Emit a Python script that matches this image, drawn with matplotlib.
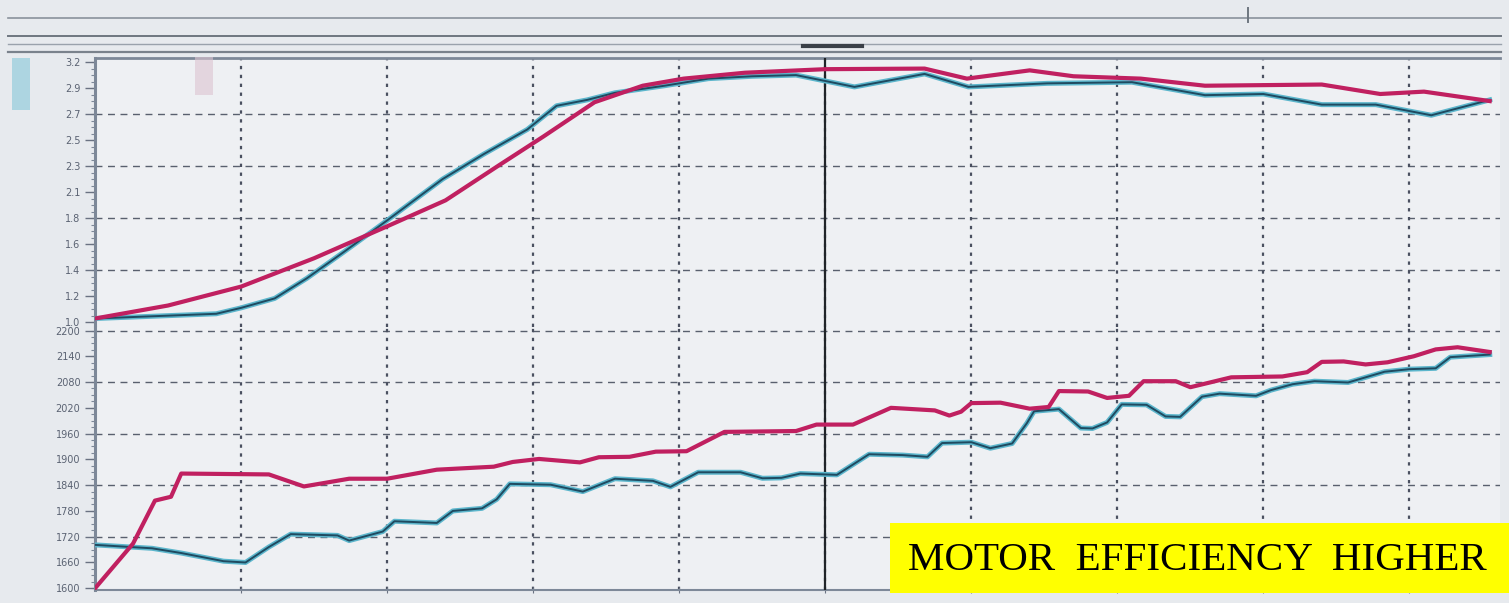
import numpy as np
import matplotlib
matplotlib.use("Agg")
import matplotlib.pyplot as plt
from matplotlib.patches import Rectangle
from matplotlib.lines import Line2D

# upper panel (efficiency-like trace), x in grid units
up_red_x = [0, 0.5, 1.0, 1.5, 2.0, 2.4, 2.77, 3.07, 3.42, 3.75, 4.03, 4.45, 5.0, 5.68,
            5.97, 6.4, 6.7, 7.16, 7.6, 8.4, 8.8, 9.1, 9.55]
up_red_y = [1.03, 1.14, 1.30, 1.54, 1.81, 2.03, 2.33, 2.57, 2.86, 3.00, 3.06, 3.11, 3.14, 3.145,
            3.06, 3.13, 3.08, 3.06, 3.00, 3.01, 2.93, 2.95, 2.87]

up_teal_x = [0, 0.83, 1.0, 1.23, 1.45, 1.7, 2.0, 2.38, 2.66, 2.96, 3.16, 3.37, 3.56, 3.9,
             4.2, 4.5, 4.8, 5.2, 5.68, 5.98, 6.52, 7.1, 7.6, 8.0, 8.4, 8.77, 9.15, 9.55]
up_teal_y = [1.03, 1.07, 1.12, 1.20, 1.37, 1.59, 1.86, 2.21, 2.42, 2.63, 2.83, 2.88, 2.94, 3.00,
             3.06, 3.08, 3.09, 2.99, 3.10, 2.99, 3.02, 3.03, 2.92, 2.93, 2.84, 2.84, 2.75, 2.88]

# lower panel (speed-like trace)
lo_red_x = [0, 0.26, 0.41, 0.52, 0.59, 1.19, 1.43, 1.74, 2.0, 2.34, 2.73, 2.86, 3.04, 3.32,
            3.45, 3.66, 3.84, 4.05, 4.31, 4.8, 4.94, 5.19, 5.45, 5.75, 5.85, 5.93, 6.0, 6.2,
            6.4, 6.53, 6.6, 6.8, 6.93, 7.08, 7.18, 7.4, 7.5, 7.78, 8.13, 8.3, 8.4, 8.55, 8.7,
            8.85, 9.03, 9.18, 9.33, 9.55]
lo_red_y = [1600, 1704, 1804, 1813, 1867, 1865, 1837, 1855, 1855, 1876, 1883, 1894, 1901, 1893,
            1905, 1906, 1918, 1919, 1964, 1966, 1981, 1981, 2020, 2014, 2002, 2011, 2031, 2032,
            2018, 2022, 2059, 2058, 2043, 2048, 2082, 2082, 2068, 2091, 2093, 2103, 2127, 2128, 2121,
            2126, 2140, 2156, 2161, 2150]

lo_teal_x = [0, 0.39, 0.59, 0.88, 1.03, 1.19, 1.34, 1.66, 1.74, 1.97, 2.05, 2.34, 2.45, 2.65,
             2.75, 2.84, 3.12, 3.34, 3.56, 3.82, 3.94, 4.13, 4.42, 4.57, 4.7, 4.83, 5.08, 5.3,
             5.53, 5.7, 5.8, 6.0, 6.13, 6.28, 6.38, 6.43, 6.6, 6.75, 6.83, 6.93, 7.03, 7.2, 7.33,
             7.43, 7.58, 7.7, 7.95, 8.05, 8.2, 8.35, 8.58, 8.83, 9.0, 9.18, 9.28, 9.55]
lo_teal_y = [1701, 1693, 1682, 1663, 1660, 1696, 1726, 1723, 1711, 1732, 1756, 1752, 1780, 1786,
             1807, 1843, 1841, 1825, 1855, 1850, 1836, 1870, 1870, 1856, 1857, 1867, 1864, 1912,
             1910, 1906, 1938, 1940, 1926, 1937, 1984, 2012, 2017, 1973, 1972, 1986, 2028, 2027, 2000,
             1999, 2046, 2053, 2048, 2061, 2075, 2082, 2079, 2104, 2110, 2112, 2138, 2144]

up_ticks = [1.0 + 0.22 * i for i in range(11)]
up_labels = ['1.0', '1.2', '1.4', '1.6', '1.8', '2.1', '2.3', '2.5', '2.7', '2.9', '3.2']
lo_ticks = list(range(1600, 2201, 60))
lo_labels = [str(t) for t in lo_ticks]

cursor_x = 5
grid_x = list(range(1, 10))

RED = '#c02060'
CYAN = '#5cb6cc'
DARK = '#1f4a60'
BG = '#e7eaee'

fig = plt.figure(figsize=(15.09, 6.03), dpi=100, facecolor=BG)
ax_up = fig.add_axes([0.063, 0.4577, 0.931, 0.446], facecolor='#eef0f3')
ax_lo = fig.add_axes([0.063, 0.0216, 0.931, 0.436], facecolor='#eef0f3', sharex=ax_up)


def style(ax, ticks, labels, ylim, grid_idx):
    ax.set_xlim(0, 9.62)
    ax.set_ylim(*ylim)
    ax.set_yticks(ticks, labels)
    ax.tick_params(axis='y', labelsize=7, labelcolor='#5a6272',
                   color='#6a7282', length=7, width=1)
    # dashed horizontal grid on every second label
    for i in grid_idx:
        ax.axhline(ticks[i], color='#59606e', linestyle=(0, (5, 4)), lw=1, zorder=1)
    ax.set_xticks(grid_x)
    ax.xaxis.grid(True, color='#4a5060', linestyle=(0, (1.5, 2.5)), lw=1.6)
    ax.tick_params(axis='x', labelbottom=False, length=5, color='#6a7282', direction='inout')
    ax.spines['right'].set_visible(False)
    for s in ['left', 'top', 'bottom']:
        ax.spines[s].set_color('#7d8898')
    ax.spines['left'].set_linewidth(2.2)
    # dense scale ticks
    sec = ax.secondary_yaxis('left')
    step = (ticks[1] - ticks[0]) / 4
    sec.set_yticks(np.arange(ticks[0], ticks[-1] + step / 2, step), labels=[])
    sec.tick_params(length=3, color='#7d8898', width=0.8)
    sec.spines['left'].set_visible(False)
    ax.axvline(cursor_x, color='#202428', lw=1.6, zorder=5)


style(ax_up, up_ticks, up_labels, (0.958, 3.234), [2, 4, 6, 8])
style(ax_lo, lo_ticks, lo_labels, (1596, 2208), [2, 4, 6, 8, 10])
ax_up.spines['bottom'].set_visible(False)
ax_up.spines['top'].set_linewidth(2)
ax_up.tick_params(axis='x', length=0)
ax_lo.spines['top'].set_visible(False)
ax_lo.spines['bottom'].set_linewidth(1.5)

for ax, rx, ry, tx, ty in [(ax_up, up_red_x, up_red_y, up_teal_x, up_teal_y),
                           (ax_lo, lo_red_x, lo_red_y, lo_teal_x, lo_teal_y)]:
    ax.plot(tx, ty, color=CYAN, lw=3.6, solid_joinstyle='round', zorder=6)
    ax.plot(tx, ty, color=DARK, lw=1.4, solid_joinstyle='round', zorder=7)
    ax.plot(rx, ry, color=RED, lw=3.0, solid_joinstyle='round', zorder=8)

# window chrome above the plot
for yy, c, w in [(18, '#8a929c', 1.2), (36, '#6e7680', 1.4), (44, '#9aa2ac', 1.0), (52, '#7a828c', 1.6)]:
    fig.add_artist(Line2D([0.005, 0.995], [1 - yy / 603] * 2, color=c, lw=w))
fig.add_artist(Line2D([1248 / 1509] * 2, [1 - 8 / 603, 1 - 22 / 603], color='#6e7680', lw=1.4))
fig.add_artist(Line2D([803 / 1509, 862 / 1509], [1 - 46 / 603] * 2, color='#3a4048', lw=3))

# faint colour swatches at the left edge
fig.add_artist(Rectangle((12 / 1509, 1 - 110 / 603), 18 / 1509, 52 / 603,
                         transform=fig.transFigure, color='#9fd0de', alpha=0.8, lw=0))
fig.add_artist(Rectangle((195 / 1509, 1 - 95 / 603), 18 / 1509, 38 / 603,
                         transform=fig.transFigure, color='#dcc4d0', alpha=0.6, lw=0, zorder=10))

# yellow caption
fig.add_artist(Rectangle((890 / 1509, 1 - 593 / 603), 619 / 1509, 70 / 603,
                         transform=fig.transFigure, color='#ffff00', lw=0, zorder=20))
fig.text(908 / 1509, 1 - 560 / 603, 'MOTOR  EFFICIENCY  HIGHER', family='Liberation Serif',
         fontsize=29.5, color='black', va='center', ha='left', zorder=21)

fig.savefig('out.png', dpi=100, facecolor=BG)
